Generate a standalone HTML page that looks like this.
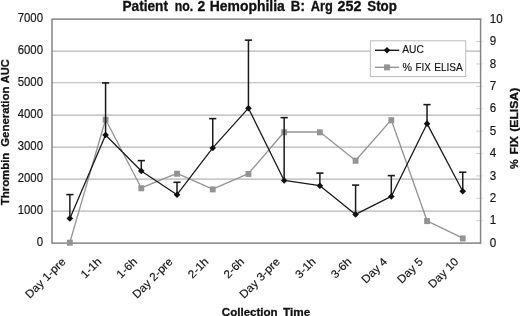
<!DOCTYPE html>
<html><head><meta charset="utf-8"><title>Patient no. 2 Hemophilia B: Arg 252 Stop</title>
<style>html,body{margin:0;padding:0;background:#fff}svg{display:block}text{font-family:"Liberation Sans",Arial,Helvetica,sans-serif;fill:#111}.r{stroke:#111;stroke-width:.15px}.b{stroke:#111;stroke-width:.3px}</style></head><body>
<svg width="520" height="316" viewBox="0 0 520 316">
<rect width="520" height="316" fill="#fff"/>
<line x1="52.0" x2="480.6" y1="51.14" y2="51.14" stroke="#b4b4b4" stroke-width="1.05"/>
<line x1="52.0" x2="480.6" y1="82.74" y2="82.74" stroke="#b4b4b4" stroke-width="1.05"/>
<line x1="52.0" x2="480.6" y1="115.13" y2="115.13" stroke="#b4b4b4" stroke-width="1.05"/>
<line x1="52.0" x2="480.6" y1="147.12" y2="147.12" stroke="#b4b4b4" stroke-width="1.05"/>
<line x1="52.0" x2="480.6" y1="179.11" y2="179.11" stroke="#b4b4b4" stroke-width="1.05"/>
<line x1="52.0" x2="480.6" y1="211.11" y2="211.11" stroke="#b4b4b4" stroke-width="1.05"/>
<line x1="476.1" x2="480.6" y1="243.10" y2="243.10" stroke="#cdcdcd" stroke-width="1"/><line x1="480.6" x2="484.1" y1="243.10" y2="243.10" stroke="#ececec" stroke-width="1"/>
<line x1="476.1" x2="480.6" y1="220.70" y2="220.70" stroke="#cdcdcd" stroke-width="1"/><line x1="480.6" x2="484.1" y1="220.70" y2="220.70" stroke="#ececec" stroke-width="1"/>
<line x1="476.1" x2="480.6" y1="198.31" y2="198.31" stroke="#cdcdcd" stroke-width="1"/><line x1="480.6" x2="484.1" y1="198.31" y2="198.31" stroke="#ececec" stroke-width="1"/>
<line x1="476.1" x2="480.6" y1="175.92" y2="175.92" stroke="#cdcdcd" stroke-width="1"/><line x1="480.6" x2="484.1" y1="175.92" y2="175.92" stroke="#ececec" stroke-width="1"/>
<line x1="476.1" x2="480.6" y1="153.52" y2="153.52" stroke="#cdcdcd" stroke-width="1"/><line x1="480.6" x2="484.1" y1="153.52" y2="153.52" stroke="#ececec" stroke-width="1"/>
<line x1="476.1" x2="480.6" y1="131.12" y2="131.12" stroke="#cdcdcd" stroke-width="1"/><line x1="480.6" x2="484.1" y1="131.12" y2="131.12" stroke="#ececec" stroke-width="1"/>
<line x1="476.1" x2="480.6" y1="108.73" y2="108.73" stroke="#cdcdcd" stroke-width="1"/><line x1="480.6" x2="484.1" y1="108.73" y2="108.73" stroke="#ececec" stroke-width="1"/>
<line x1="476.1" x2="480.6" y1="86.34" y2="86.34" stroke="#cdcdcd" stroke-width="1"/><line x1="480.6" x2="484.1" y1="86.34" y2="86.34" stroke="#ececec" stroke-width="1"/>
<line x1="476.1" x2="480.6" y1="63.94" y2="63.94" stroke="#cdcdcd" stroke-width="1"/><line x1="480.6" x2="484.1" y1="63.94" y2="63.94" stroke="#ececec" stroke-width="1"/>
<line x1="476.1" x2="480.6" y1="41.54" y2="41.54" stroke="#cdcdcd" stroke-width="1"/><line x1="480.6" x2="484.1" y1="41.54" y2="41.54" stroke="#ececec" stroke-width="1"/>
<line x1="476.1" x2="480.6" y1="19.15" y2="19.15" stroke="#cdcdcd" stroke-width="1"/><line x1="480.6" x2="484.1" y1="19.15" y2="19.15" stroke="#ececec" stroke-width="1"/>
<rect x="52.0" y="19.15" width="428.6" height="223.95" fill="none" stroke="#848484" stroke-width="1.5"/>
<polyline points="69.86,242.40 105.58,119.45 141.29,187.98 177.01,173.42 212.73,189.10 248.44,173.65 284.16,131.99 319.88,131.99 355.59,160.43 391.31,119.90 427.03,220.79 462.74,238.14" fill="none" stroke="#949494" stroke-width="1.35" stroke-linejoin="round"/>
<rect x="66.96" y="239.70" width="5.8" height="6" fill="#939393"/>
<rect x="102.67" y="116.75" width="5.8" height="6" fill="#939393"/>
<rect x="138.39" y="185.28" width="5.8" height="6" fill="#939393"/>
<rect x="174.11" y="170.72" width="5.8" height="6" fill="#939393"/>
<rect x="209.83" y="186.40" width="5.8" height="6" fill="#939393"/>
<rect x="245.54" y="170.95" width="5.8" height="6" fill="#939393"/>
<rect x="281.26" y="129.29" width="5.8" height="6" fill="#939393"/>
<rect x="316.98" y="129.29" width="5.8" height="6" fill="#939393"/>
<rect x="352.69" y="157.73" width="5.8" height="6" fill="#939393"/>
<rect x="388.41" y="117.20" width="5.8" height="6" fill="#939393"/>
<rect x="424.13" y="218.09" width="5.8" height="6" fill="#939393"/>
<rect x="459.84" y="235.44" width="5.8" height="6" fill="#939393"/>
<path d="M69.86 218.41V194.41" stroke="#1a1a1a" stroke-width="1.5" fill="none"/><path d="M66.26 194.61H73.46" stroke="#1a1a1a" stroke-width="1.6" fill="none"/>
<path d="M105.58 135.06V82.76" stroke="#1a1a1a" stroke-width="1.5" fill="none"/><path d="M101.98 82.96H109.17" stroke="#1a1a1a" stroke-width="1.6" fill="none"/>
<path d="M141.29 171.06V160.43" stroke="#1a1a1a" stroke-width="1.5" fill="none"/><path d="M137.69 160.63H144.89" stroke="#1a1a1a" stroke-width="1.6" fill="none"/>
<path d="M177.01 194.73V182.09" stroke="#1a1a1a" stroke-width="1.5" fill="none"/><path d="M173.41 182.29H180.61" stroke="#1a1a1a" stroke-width="1.6" fill="none"/>
<path d="M212.73 147.93V118.43" stroke="#1a1a1a" stroke-width="1.5" fill="none"/><path d="M209.13 118.63H216.33" stroke="#1a1a1a" stroke-width="1.6" fill="none"/>
<path d="M248.44 108.19V39.95" stroke="#1a1a1a" stroke-width="1.5" fill="none"/><path d="M244.84 40.15H252.04" stroke="#1a1a1a" stroke-width="1.6" fill="none"/>
<path d="M284.16 180.43V117.44" stroke="#1a1a1a" stroke-width="1.5" fill="none"/><path d="M280.56 117.64H287.76" stroke="#1a1a1a" stroke-width="1.6" fill="none"/>
<path d="M319.88 185.68V172.91" stroke="#1a1a1a" stroke-width="1.5" fill="none"/><path d="M316.27 173.11H323.48" stroke="#1a1a1a" stroke-width="1.6" fill="none"/>
<path d="M355.59 214.41V184.91" stroke="#1a1a1a" stroke-width="1.5" fill="none"/><path d="M351.99 185.11H359.19" stroke="#1a1a1a" stroke-width="1.6" fill="none"/>
<path d="M391.31 196.43V175.41" stroke="#1a1a1a" stroke-width="1.5" fill="none"/><path d="M387.71 175.61H394.91" stroke="#1a1a1a" stroke-width="1.6" fill="none"/>
<path d="M427.03 123.67V104.45" stroke="#1a1a1a" stroke-width="1.5" fill="none"/><path d="M423.43 104.65H430.63" stroke="#1a1a1a" stroke-width="1.6" fill="none"/>
<path d="M462.74 191.21V172.02" stroke="#1a1a1a" stroke-width="1.5" fill="none"/><path d="M459.14 172.22H466.34" stroke="#1a1a1a" stroke-width="1.6" fill="none"/>
<polyline points="69.86,218.41 105.58,135.06 141.29,171.06 177.01,194.73 212.73,147.93 248.44,108.19 284.16,180.43 319.88,185.68 355.59,214.41 391.31,196.43 427.03,123.67 462.74,191.21" fill="none" stroke="#1a1a1a" stroke-width="1.3" stroke-linejoin="round"/>
<path d="M69.86 215.11L73.16 218.41L69.86 221.71L66.56 218.41Z" fill="#111"/>
<path d="M105.58 131.76L108.88 135.06L105.58 138.36L102.28 135.06Z" fill="#111"/>
<path d="M141.29 167.76L144.59 171.06L141.29 174.36L137.99 171.06Z" fill="#111"/>
<path d="M177.01 191.43L180.31 194.73L177.01 198.03L173.71 194.73Z" fill="#111"/>
<path d="M212.73 144.63L216.03 147.93L212.73 151.23L209.43 147.93Z" fill="#111"/>
<path d="M248.44 104.89L251.74 108.19L248.44 111.49L245.14 108.19Z" fill="#111"/>
<path d="M284.16 177.13L287.46 180.43L284.16 183.73L280.86 180.43Z" fill="#111"/>
<path d="M319.88 182.38L323.18 185.68L319.88 188.98L316.57 185.68Z" fill="#111"/>
<path d="M355.59 211.11L358.89 214.41L355.59 217.71L352.29 214.41Z" fill="#111"/>
<path d="M391.31 193.13L394.61 196.43L391.31 199.73L388.01 196.43Z" fill="#111"/>
<path d="M427.03 120.37L430.33 123.67L427.03 126.97L423.73 123.67Z" fill="#111"/>
<path d="M462.74 187.91L466.04 191.21L462.74 194.51L459.44 191.21Z" fill="#111"/>
<text transform="translate(43.0 246.35) scale(0.955 1)" font-size="11.9" text-anchor="end" class="r">0</text>
<text transform="translate(43.0 214.36) scale(0.955 1)" font-size="11.9" text-anchor="end" class="r">1000</text>
<text transform="translate(43.0 182.36) scale(0.955 1)" font-size="11.9" text-anchor="end" class="r">2000</text>
<text transform="translate(43.0 150.37) scale(0.955 1)" font-size="11.9" text-anchor="end" class="r">3000</text>
<text transform="translate(43.0 118.38) scale(0.955 1)" font-size="11.9" text-anchor="end" class="r">4000</text>
<text transform="translate(43.0 86.39) scale(0.955 1)" font-size="11.9" text-anchor="end" class="r">5000</text>
<text transform="translate(43.0 54.39) scale(0.955 1)" font-size="11.9" text-anchor="end" class="r">6000</text>
<text transform="translate(43.0 22.40) scale(0.955 1)" font-size="11.9" text-anchor="end" class="r">7000</text>
<text transform="translate(489.8 246.80) scale(0.97 1)" font-size="12" class="r">0</text>
<text transform="translate(489.8 224.40) scale(0.97 1)" font-size="12" class="r">1</text>
<text transform="translate(489.8 202.01) scale(0.97 1)" font-size="12" class="r">2</text>
<text transform="translate(489.8 179.62) scale(0.97 1)" font-size="12" class="r">3</text>
<text transform="translate(489.8 157.22) scale(0.97 1)" font-size="12" class="r">4</text>
<text transform="translate(489.8 134.82) scale(0.97 1)" font-size="12" class="r">5</text>
<text transform="translate(489.8 112.43) scale(0.97 1)" font-size="12" class="r">6</text>
<text transform="translate(489.8 90.04) scale(0.97 1)" font-size="12" class="r">7</text>
<text transform="translate(489.8 67.64) scale(0.97 1)" font-size="12" class="r">8</text>
<text transform="translate(489.8 45.24) scale(0.97 1)" font-size="12" class="r">9</text>
<text transform="translate(489.8 22.85) scale(0.97 1)" font-size="12" class="r">10</text>
<text y="10.90" font-size="13.8" font-weight="bold" class="b"><tspan x="122.50" textLength="45.50" lengthAdjust="spacingAndGlyphs">Patient</tspan> <tspan x="174.80" textLength="18.39" lengthAdjust="spacingAndGlyphs">no.</tspan> <tspan x="197.50" textLength="7.70" lengthAdjust="spacingAndGlyphs">2</tspan> <tspan x="209.80" textLength="75.00" lengthAdjust="spacingAndGlyphs">Hemophilia</tspan> <tspan x="290.80" textLength="14.00" lengthAdjust="spacingAndGlyphs">B:</tspan> <tspan x="310.70" textLength="22.00" lengthAdjust="spacingAndGlyphs">Arg</tspan> <tspan x="337.50" textLength="23.91" lengthAdjust="spacingAndGlyphs">252</tspan> <tspan x="367.30" textLength="29.60" lengthAdjust="spacingAndGlyphs">Stop</tspan></text>
<text transform="rotate(-90)" y="9.30" font-size="11.2" font-weight="bold" class="b"><tspan x="-205.20" textLength="52.50" lengthAdjust="spacingAndGlyphs">Thrombin</tspan> <tspan x="-146.80" textLength="60.20" lengthAdjust="spacingAndGlyphs">Generation</tspan> <tspan x="-83.20" textLength="23.79" lengthAdjust="spacingAndGlyphs">AUC</tspan></text>
<text transform="rotate(-90)" y="517.80" font-size="11.5" font-weight="bold" class="b"><tspan x="-169.00" textLength="9.70" lengthAdjust="spacingAndGlyphs">%</tspan> <tspan x="-154.50" textLength="18.50" lengthAdjust="spacingAndGlyphs">FIX</tspan> <tspan x="-131.80" textLength="44.00" lengthAdjust="spacingAndGlyphs">(ELISA)</tspan></text>
<text y="315.80" font-size="11.3" font-weight="bold" class="b"><tspan x="221.80" textLength="55.89" lengthAdjust="spacingAndGlyphs">Collection</tspan> <tspan x="283.00" textLength="27.20" lengthAdjust="spacingAndGlyphs">Time</tspan></text>
<text transform="translate(66.36 262.30) rotate(-45) scale(1.045 1)" font-size="11.3" text-anchor="end" class="r">Day 1-pre</text>
<text transform="translate(102.08 262.30) rotate(-45) scale(1.045 1)" font-size="11.3" text-anchor="end" class="r">1-1h</text>
<text transform="translate(137.79 262.30) rotate(-45) scale(1.045 1)" font-size="11.3" text-anchor="end" class="r">1-6h</text>
<text transform="translate(173.51 262.30) rotate(-45) scale(1.045 1)" font-size="11.3" text-anchor="end" class="r">Day 2-pre</text>
<text transform="translate(209.23 262.30) rotate(-45) scale(1.045 1)" font-size="11.3" text-anchor="end" class="r">2-1h</text>
<text transform="translate(244.94 262.30) rotate(-45) scale(1.045 1)" font-size="11.3" text-anchor="end" class="r">2-6h</text>
<text transform="translate(280.66 262.30) rotate(-45) scale(1.045 1)" font-size="11.3" text-anchor="end" class="r">Day 3-pre</text>
<text transform="translate(316.38 262.30) rotate(-45) scale(1.045 1)" font-size="11.3" text-anchor="end" class="r">3-1h</text>
<text transform="translate(352.09 262.30) rotate(-45) scale(1.045 1)" font-size="11.3" text-anchor="end" class="r">3-6h</text>
<text transform="translate(387.81 262.30) rotate(-45) scale(1.045 1)" font-size="11.3" text-anchor="end" class="r">Day 4</text>
<text transform="translate(423.53 262.30) rotate(-45) scale(1.045 1)" font-size="11.3" text-anchor="end" class="r">Day 5</text>
<text transform="translate(459.24 262.30) rotate(-45) scale(1.045 1)" font-size="11.3" text-anchor="end" class="r">Day 10</text>
<rect x="370.4" y="40.8" width="95.3" height="35.7" fill="#fff" stroke="#bdbdbd" stroke-width="1"/>
<line x1="375" x2="399.2" y1="50.3" y2="50.3" stroke="#1a1a1a" stroke-width="1.4"/>
<path d="M387 47L390.3 50.3L387 53.6L383.7 50.3Z" fill="#111"/>
<text transform="translate(402.20 53.30) scale(0.9474 1)" font-size="10.8" class="r">AUC</text>
<line x1="375" x2="399.2" y1="67.3" y2="67.3" stroke="#949494" stroke-width="1.35"/>
<rect x="384.1" y="64.4" width="5.8" height="6" fill="#939393"/>
<text y="70.80" font-size="10.8" class="r"><tspan x="402.50" textLength="9.50" lengthAdjust="spacingAndGlyphs">%</tspan> <tspan x="415.50" textLength="15.30" lengthAdjust="spacingAndGlyphs">FIX</tspan> <tspan x="434.20" textLength="28.60" lengthAdjust="spacingAndGlyphs">ELISA</tspan></text>
</svg></body></html>
